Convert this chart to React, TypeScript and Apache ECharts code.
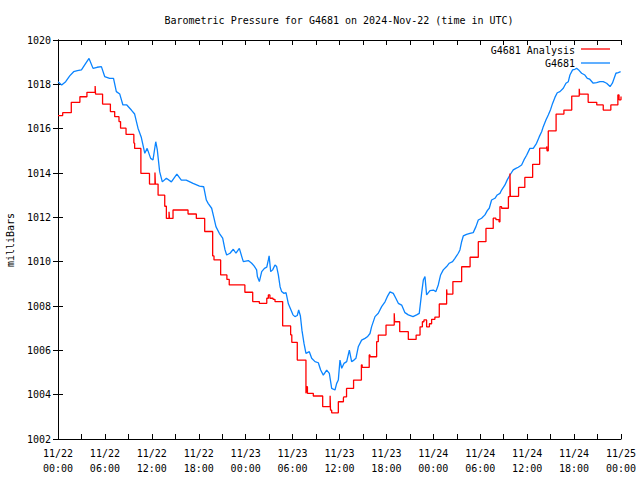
import React, { useEffect, useRef } from "react";
import * as echarts from "echarts";

// Hours since 2024-11-22 00:00 UTC and pressures (mb)
const blueHours = [0,0.47,0.98,1.5,2.0,2.48,3.0,3.5,3.97,4.48,5.0,5.55,5.97,6.6,7.1,7.46,7.9,8.3,8.8,9.38,9.8,10.23,10.66,11.1,11.4,11.85,12.15,12.5,12.7,13.0,13.34,13.86,14.5,15.2,15.77,16.4,17.27,18.1,18.63,18.97,19.2,19.65,19.95,20.2,20.63,21.06,21.36,21.57,22.0,22.42,22.76,23.19,23.5,23.7,24.34,24.77,25.07,25.4,25.5,25.75,26.05,26.4,26.7,26.9,27.0,27.2,27.45,27.75,27.96,28.18,28.4,28.6,28.9,29.16,29.46,29.7,30.05,30.3,30.6,30.78,31.0,31.2,31.46,31.71,32.14,32.44,32.87,33.29,33.59,33.93,34.36,34.7,35.0,35.42,35.64,35.85,36.06,36.28,36.57,36.92,37.26,37.55,37.85,38.1,38.4,38.83,39.26,39.56,39.9,40.1,40.54,40.96,41.39,41.82,42.11,42.46,42.88,43.22,43.52,43.95,44.37,44.8,45.4,45.86,46.2,46.5,46.72,46.93,47.14,47.57,48.0,48.33,48.63,48.93,49.27,49.7,50.04,50.46,50.76,51.19,51.4,51.62,51.83,52.25,52.68,53.1,53.45,53.75,54.17,54.6,54.9,55.15,55.45,55.88,56.17,56.52,56.73,57.16,57.45,57.8,58.22,58.56,58.86,59.29,59.59,59.93,60.35,60.78,61.2,61.55,61.85,62.06,62.4,62.7,63.0,63.25,63.55,63.85,64.19,64.62,64.96,65.26,65.47,65.81,66.1,66.32,66.66,66.96,67.38,67.69,68.0,68.45,68.88,69.3,69.73,70.16,70.6,70.9,71.35,71.65,71.95];
const bluePress = [1018.12,1017.97,1018.12,1018.38,1018.57,1018.62,1018.65,1018.92,1019.17,1018.72,1018.77,1018.8,1018.35,1018.27,1018.27,1017.67,1017.56,1017.07,1017.07,1016.84,1016.66,1016.02,1015.6,1014.89,1015.11,1014.66,1014.59,1015.41,1015.04,1014.06,1013.6,1013.76,1013.6,1013.95,1013.68,1013.68,1013.53,1013.41,1013.38,1012.78,1012.63,1012.41,1011.96,1011.58,1011.28,1011.06,1010.53,1010.3,1010.38,1010.56,1010.38,1010.6,1010.23,1010.0,1010.05,1009.93,1009.81,1009.63,1009.33,1009.1,1009.55,1009.7,1009.75,1010.08,1010.26,1009.55,1009.63,1009.85,1009.78,1009.4,1008.87,1008.65,1008.57,1008.6,1008.1,1007.9,1007.6,1007.52,1007.57,1007.82,1007.55,1006.9,1006.31,1005.86,1005.94,1005.64,1005.49,1005.44,1005.11,1004.88,1005.11,1004.96,1004.28,1004.21,1004.51,1004.66,1005.56,1005.19,1005.41,1005.49,1006.01,1005.49,1005.56,1005.64,1006.16,1006.46,1006.54,1006.61,1006.76,1007.06,1007.52,1007.67,1007.97,1008.19,1008.42,1008.64,1008.57,1008.34,1008.12,1008.04,1007.7,1007.6,1007.52,1007.6,1007.67,1008.57,1009.17,1009.33,1008.5,1008.69,1008.72,1008.65,1008.95,1009.4,1009.63,1009.78,1009.93,1010.0,1010.15,1010.38,1010.53,1010.9,1011.16,1011.23,1011.28,1011.31,1011.58,1011.88,1011.96,1012.11,1012.3,1012.41,1012.78,1012.86,1013.01,1013.08,1013.23,1013.46,1013.69,1013.91,1014.14,1014.21,1014.26,1014.36,1014.59,1014.8,1015.11,1015.11,1015.34,1015.64,1015.86,1016.09,1016.39,1016.62,1016.87,1017.14,1017.41,1017.62,1017.67,1017.82,1018.05,1018.12,1018.42,1018.65,1018.68,1018.72,1018.62,1018.5,1018.42,1018.27,1018.23,1018.05,1018.08,1018.12,1018.12,1018.05,1017.9,1018.05,1018.5,1018.53,1018.57];

const redHours = [0,0.6,1.7,2.8,3.7,4.75,4.8,5.7,6.7,7.25,7.8,8.0,8.7,9.7,9.8,10.6,11.7,12.4,12.45,12.8,13.65,13.86,14.2,14.25,14.71,16.63,17.69,18.76,19.78,19.95,20.8,21.6,21.9,23.9,24.9,25.75,26.7,26.9,27.1,27.5,27.75,28.73,29.75,29.9,30.6,31.71,31.8,31.9,32.65,33.85,34.8,34.85,35.0,35.85,36.5,36.55,36.9,37.8,38.8,38.9,39.8,39.9,40.75,40.96,41.95,43.0,43.05,43.7,44.8,45.8,46.3,46.6,46.8,47.14,47.5,47.78,48.2,48.76,49.7,49.75,50.5,51.62,52.7,53.75,54.73,55.66,56.0,56.4,56.52,56.73,57.6,57.8,57.85,58.9,59.7,60.7,61.6,62.5,62.55,62.7,63.7,64.7,65.7,66.66,66.7,67.8,68.9,69.73,70.7,71.6,71.75,72];
const redPress = [1016.59,1016.72,1017.19,1017.44,1017.64,1017.92,1017.56,1017.11,1016.77,1016.54,1016.32,1016.02,1015.74,1015.35,1015.11,1013.98,1013.5,1014.02,1013.5,1013.0,1012.5,1011.95,1012.25,1011.95,1012.33,1012.15,1011.95,1011.36,1010.26,1010.08,1009.4,1009.2,1008.95,1008.62,1008.2,1008.12,1008.35,1008.5,1008.35,1008.3,1008.2,1007.1,1006.7,1006.36,1005.56,1004.06,1004.36,1004.06,1003.94,1003.46,1003.95,1003.3,1003.18,1003.68,1003.85,1003.9,1004.28,1004.66,1005.34,1005.23,1005.79,1005.71,1006.39,1006.69,1007.14,1007.67,1007.29,1006.84,1006.49,1006.69,1007.06,1007.29,1007.37,1007.06,1007.2,1007.4,1007.5,1008.09,1008.75,1008.54,1009.1,1009.77,1010.2,1010.9,1011.5,1011.96,1011.9,1011.8,1012.48,1012.41,1012.93,1013.98,1012.95,1013.35,1013.8,1014.39,1015.12,1015.2,1015.0,1015.9,1016.66,1016.84,1017.47,1017.8,1017.56,1017.19,1017.07,1016.84,1017.07,1017.52,1017.3,1017.45];

const xTickLabels = ["11/22\n00:00","11/22\n06:00","11/22\n12:00","11/22\n18:00","11/23\n00:00","11/23\n06:00","11/23\n12:00","11/23\n18:00","11/24\n00:00","11/24\n06:00","11/24\n12:00","11/24\n18:00","11/25\n00:00"];
const seriesNames = ["G4681 Analysis", "G4681"];
const titleText = "Barometric Pressure for G4681 on 2024-Nov-22 (time in UTC)";
const yName = "milliBars";

const FONT = "DejaVu Sans Mono";
const RED = "#ff0000";
const BLUE = "#0a84ff";

export default function App() {
  const ref = useRef<HTMLDivElement>(null);
  useEffect(() => {
    if (!ref.current) return;
    const chart = echarts.init(ref.current, null, { renderer: "svg" });
    const blueData = blueHours.map((h, i) => [h, bluePress[i]]);
    const redData = redHours.map((h, i) => [h, redPress[i]]);
    const axisCommon = {
      type: "value" as const,
      axisLine: { show: true, lineStyle: { color: "#000", width: 1 } },
      axisTick: { show: true, inside: true, length: 5, lineStyle: { color: "#000" } },
      splitLine: { show: false },
    };
    chart.setOption({
      animation: false,
      backgroundColor: "#fff",
      textStyle: { fontFamily: FONT },
      grid: { left: 58, right: 19, top: 40, bottom: 41 },
      xAxis: [
        {
          ...axisCommon,
          position: "bottom",
          min: 0,
          max: 72,
          interval: 3,
          axisLabel: {
            show: true,
            color: "#000",
            fontFamily: FONT,
            fontSize: 10,
            lineHeight: 15,
            margin: 7,
            showMinLabel: true,
            showMaxLabel: true,
            formatter: (v: number) => (v % 6 === 0 ? xTickLabels[v / 6] : ""),
          },
        },
        {
          ...axisCommon,
          position: "top",
          min: 0,
          max: 72,
          interval: 3,
          axisLabel: { show: false },
        },
      ],
      yAxis: [
        {
          ...axisCommon,
          position: "left",
          min: 1002,
          max: 1020,
          interval: 2,
          axisLabel: {
            show: true,
            color: "#000",
            fontFamily: FONT,
            fontSize: 10,
            margin: 7,
            showMinLabel: true,
            showMaxLabel: true,
            formatter: (v: number) => String(v),
          },
        },
        {
          ...axisCommon,
          position: "right",
          min: 1002,
          max: 1020,
          interval: 2,
          axisLabel: { show: false },
        },
      ],
      series: [
        {
          name: seriesNames[0],
          type: "line",
          data: redData,
          step: "end",
          showSymbol: false,
          symbol: "none",
          lineStyle: { color: RED, width: 1.3 },
          itemStyle: { color: RED },
          z: 3,
        },
        {
          name: seriesNames[1],
          type: "line",
          data: blueData,
          showSymbol: false,
          symbol: "none",
          lineStyle: { color: BLUE, width: 1.3 },
          itemStyle: { color: BLUE },
          z: 2,
        },
      ],
      graphic: [
        {
          type: "text",
          x: 339,
          y: 20,
          style: { text: titleText, fontFamily: FONT, fontSize: 10, fill: "#000", align: "center", verticalAlign: "middle" },
        },
        {
          type: "text",
          x: 10,
          y: 240,
          rotation: Math.PI / 2,
          style: { text: yName, fontFamily: FONT, fontSize: 10, fill: "#000", align: "center", verticalAlign: "middle" },
        },
        {
          type: "text",
          x: 575,
          y: 50,
          style: { text: seriesNames[0], fontFamily: FONT, fontSize: 10, fill: "#000", align: "right", verticalAlign: "middle" },
        },
        {
          type: "line",
          shape: { x1: 581, y1: 49, x2: 610, y2: 49 },
          style: { stroke: RED, lineWidth: 1.3 },
        },
        {
          type: "text",
          x: 575,
          y: 63,
          style: { text: seriesNames[1], fontFamily: FONT, fontSize: 10, fill: "#000", align: "right", verticalAlign: "middle" },
        },
        {
          type: "line",
          shape: { x1: 581, y1: 63, x2: 610, y2: 63 },
          style: { stroke: BLUE, lineWidth: 1.3 },
        },
      ],
    });
    return () => chart.dispose();
  }, []);
  return <div ref={ref} style={{ position: "fixed", left: 0, top: 0, width: 640, height: 480 }} />;
}
